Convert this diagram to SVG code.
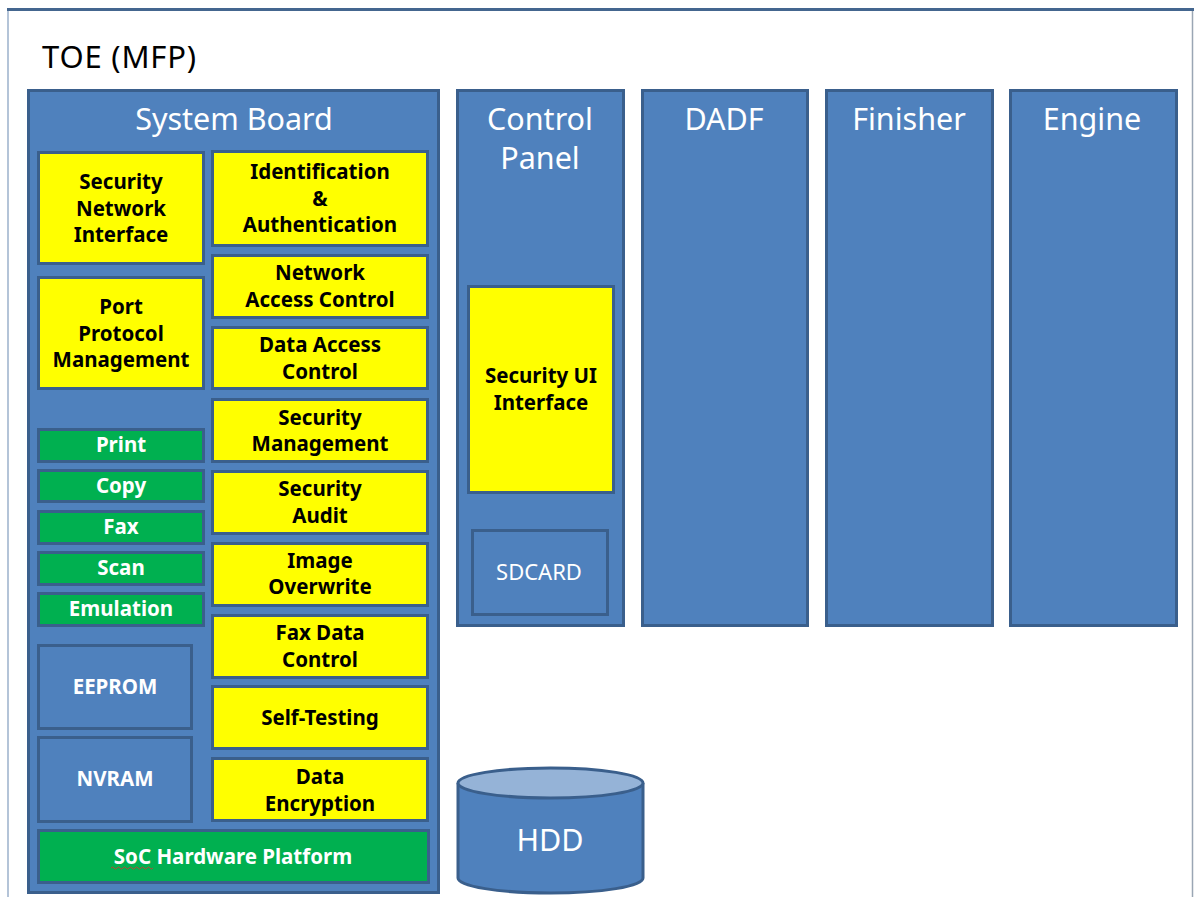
<svg xmlns="http://www.w3.org/2000/svg" width="1194" height="897" viewBox="0 0 1194 897">
<style>
.blue{fill:#4F81BD;stroke:#3A5F8C;stroke-width:3}
.yel{fill:#FFFF00;stroke:#3A5F8C;stroke-width:3}
.grn{fill:#00B050;stroke:#3A5F8C;stroke-width:3}
.t{font-family:"Noto Sans","Open Sans",sans-serif;text-anchor:middle}
.big{font-size:30.5px;fill:#FFFFFF}
.lb{font-size:20.5px;font-weight:bold;fill:#000000}
.lw{font-size:20.5px;font-weight:bold;fill:#FFFFFF}
.sd{font-size:22px;fill:#FFFFFF}
</style>
<rect width="1194" height="897" fill="#FFFFFF"/>
<g id="frame">
<line x1="8" y1="10" x2="8" y2="897" stroke="#B4C4D8" stroke-width="2"/>
<line x1="1192.5" y1="10" x2="1192.5" y2="897" stroke="#9AA6B4" stroke-width="1.5"/>
<line x1="7" y1="9.5" x2="1194" y2="9.5" stroke="#44668F" stroke-width="3"/>
<text x="42" y="68" style="font-family:'Noto Sans','Open Sans',sans-serif;font-size:31px;letter-spacing:0.8px;fill:#000">TOE (MFP)</text>
</g>
<g id="system-board">
<rect class="blue" x="28.5" y="90.5" width="410" height="802"/>
<text class="t big" x="234" y="130">System  Board</text>
</g>
<g id="sni"><rect class="yel" x="38.5" y="152.5" width="165" height="111"/>
<text class="t lb" x="121" y="189">Security</text><text class="t lb" x="121" y="216">Network</text><text class="t lb" x="121" y="242">Interface</text></g>
<g id="ia"><rect class="yel" x="212.5" y="151.5" width="215" height="94"/>
<text class="t lb" x="320" y="179">Identification</text><text class="t lb" x="320" y="206">&amp;</text><text class="t lb" x="320" y="232">Authentication</text></g>
<g id="nac"><rect class="yel" x="212.5" y="255.5" width="215" height="62"/>
<text class="t lb" x="320" y="280">Network</text><text class="t lb" x="320" y="307">Access Control</text></g>
<g id="ppm"><rect class="yel" x="38.5" y="277.5" width="165" height="111"/>
<text class="t lb" x="121" y="314">Port</text><text class="t lb" x="121" y="341">Protocol</text><text class="t lb" x="121" y="367">Management</text></g>
<g id="dac"><rect class="yel" x="212.5" y="327.5" width="215" height="61"/>
<text class="t lb" x="320" y="352">Data Access</text><text class="t lb" x="320" y="379">Control</text></g>
<g id="sm"><rect class="yel" x="212.5" y="399.5" width="215" height="62"/>
<text class="t lb" x="320" y="425">Security</text><text class="t lb" x="320" y="451">Management</text></g>
<g id="sa"><rect class="yel" x="212.5" y="471.5" width="215" height="62"/>
<text class="t lb" x="320" y="496">Security</text><text class="t lb" x="320" y="523">Audit</text></g>
<g id="io"><rect class="yel" x="212.5" y="543.5" width="215" height="62"/>
<text class="t lb" x="320" y="568">Image</text><text class="t lb" x="320" y="594">Overwrite</text></g>
<g id="fdc"><rect class="yel" x="212.5" y="615.5" width="215" height="62"/>
<text class="t lb" x="320" y="640">Fax Data</text><text class="t lb" x="320" y="667">Control</text></g>
<g id="st"><rect class="yel" x="212.5" y="686.5" width="215" height="62"/>
<text class="t lb" x="320" y="725">Self-Testing</text></g>
<g id="de"><rect class="yel" x="212.5" y="758.5" width="215" height="62"/>
<text class="t lb" x="320" y="784">Data</text><text class="t lb" x="320" y="811">Encryption</text></g>
<g id="print"><rect class="grn" x="38.5" y="429.5" width="165" height="32"/><text class="t lw" x="121" y="452">Print</text></g>
<g id="copy"><rect class="grn" x="38.5" y="470.5" width="165" height="31"/><text class="t lw" x="121" y="493">Copy</text></g>
<g id="fax"><rect class="grn" x="38.5" y="511.5" width="165" height="32"/><text class="t lw" x="121" y="534">Fax</text></g>
<g id="scan"><rect class="grn" x="38.5" y="552.5" width="165" height="32"/><text class="t lw" x="121" y="575">Scan</text></g>
<g id="emulation"><rect class="grn" x="38.5" y="593.5" width="165" height="32"/><text class="t lw" x="121" y="616">Emulation</text></g>
<g id="eeprom"><rect class="blue" x="38.5" y="645.5" width="153" height="83"/><text class="t lw" x="115" y="694">EEPROM</text></g>
<g id="nvram"><rect class="blue" x="38.5" y="737.5" width="153" height="84"/><text class="t lw" x="115" y="786">NVRAM</text></g>
<g id="soc"><rect class="grn" x="38.5" y="830.5" width="390" height="52"/><text class="t lw" x="233" y="864">SoC Hardware Platform</text>
<path d="M111 868 q1.5 -2 3 0 t3 0 t3 0 t3 0 t3 0 t3 0 t3 0 t3 0 t3 0 t3 0 t3 0 t3 0 t3 0 t3 0" fill="none" stroke="#E03030" stroke-width="0.8"/></g>
<g id="control-panel">
<rect class="blue" x="457.5" y="90.5" width="166" height="535"/>
<text class="t big" x="540" y="130">Control</text><text class="t big" x="540" y="169">Panel</text>
</g>
<g id="sui"><rect class="yel" x="468.5" y="286.5" width="145" height="206"/>
<text class="t lb" x="541" y="383">Security UI</text><text class="t lb" x="541" y="410">Interface</text></g>
<g id="sdcard"><rect class="blue" x="472.5" y="530.5" width="135" height="84"/><text class="t sd" x="539" y="580">SDCARD</text></g>
<g id="dadf"><rect class="blue" x="642.5" y="90.5" width="165" height="535"/><text class="t big" x="724" y="130">DADF</text></g>
<g id="finisher"><rect class="blue" x="826.5" y="90.5" width="166" height="535"/><text class="t big" x="909" y="130">Finisher</text></g>
<g id="engine"><rect class="blue" x="1010.5" y="90.5" width="166" height="535"/><text class="t big" x="1092" y="130">Engine</text></g>
<g id="hdd">
<path d="M458 783 L458 878 A92.5 15 0 0 0 643 878 L643 783" fill="#4F81BD" stroke="#3A5F8C" stroke-width="3"/>
<ellipse cx="550.5" cy="783" rx="92.5" ry="15" fill="#95B3D7" stroke="#3A5F8C" stroke-width="3"/>
<text class="t big" x="550" y="851">HDD</text>
</g>
<g id="connectors"/>
</svg>
